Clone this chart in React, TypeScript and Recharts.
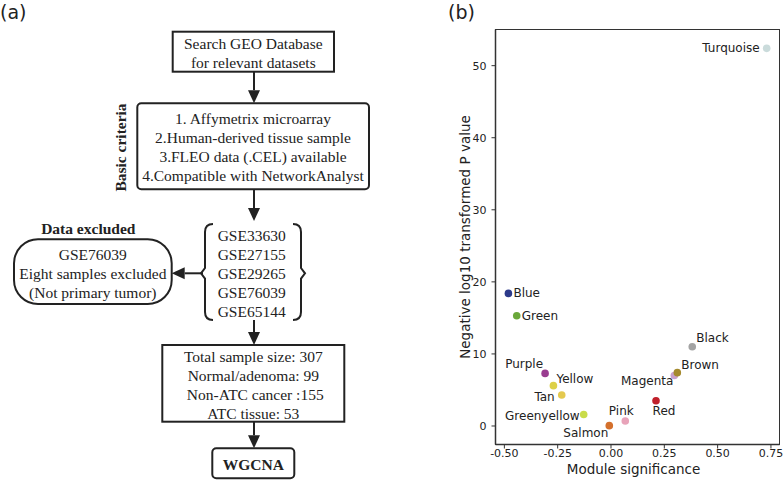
import { ScatterChart, Scatter, XAxis, YAxis, Label } from 'recharts';

// module eigengene: significance vs -log10(p)
const modules = ['Turquoise', 'Blue', 'Green', 'Purple', 'Yellow', 'Tan', 'Greenyellow', 'Salmon', 'Pink', 'Red', 'Magenta', 'Brown', 'Black'];
const significance = [0.73, -0.481, -0.442, -0.309, -0.27, -0.231, -0.128, -0.008, 0.067, 0.211, 0.297, 0.311, 0.381];
const negLogP = [52.4, 18.4, 15.3, 7.3, 5.6, 4.3, 1.6, 0.05, 0.7, 3.5, 7.0, 7.4, 11.0];
const xTicks = [-0.5, -0.25, 0, 0.25, 0.5, 0.75];
const yTicks = [0, 10, 20, 30, 40, 50];

const gseList = ['GSE33630', 'GSE27155', 'GSE29265', 'GSE76039', 'GSE65144'];
const criteria = ['1. Affymetrix microarray', '2.Human-derived tissue sample', '3.FLEO data (.CEL) available', '4.Compatible with NetworkAnalyst'];
const sampleLines = ['Total sample size: 307', 'Normal/adenoma: 99', ' Non-ATC cancer :155', 'ATC tissue: 53'];
const excludedLines = ['GSE76039', 'Eight samples excluded', '(Not primary tumor)'];

const moduleColors: Record<string, string> = {
  Turquoise: '#cadbdb',
  Blue: '#2c3a8a',
  Green: '#6aa83a',
  Purple: '#9a3d90',
  Yellow: '#ddd046',
  Tan: '#e4c94f',
  Greenyellow: '#c9dc4a',
  Salmon: '#d4702c',
  Pink: '#e8a3b9',
  Red: '#c0202a',
  Magenta: '#c9a0cc',
  Brown: '#a58a2e',
  Black: '#a3a3a3',
};

// label offset from the dot: dx, dy, anchor
const placement: Record<string, [number, number, 'start' | 'middle' | 'end']> = {
  Turquoise: [-7, 0, 'end'],
  Blue: [5, 0, 'start'],
  Green: [5, 0, 'start'],
  Purple: [-2, -9, 'end'],
  Yellow: [3, -7, 'start'],
  Tan: [-7, 2, 'end'],
  Greenyellow: [-4, 2, 'end'],
  Salmon: [-1, 7, 'end'],
  Pink: [-4, -10, 'middle'],
  Red: [8, 10, 'middle'],
  Magenta: [-1, 5, 'end'],
  Brown: [4, -8, 'start'],
  Black: [4, -9, 'start'],
};

const points = modules.map((name, i) => ({ name, x: significance[i], y: negLogP[i] }));

const expand = (vals: number[]) => {
  const lo = Math.min(...vals);
  const hi = Math.max(...vals);
  const pad = (hi - lo) * 0.05;
  return [lo - pad, hi + pad];
};
const xDomain = expand(significance);
const yDomain = expand(negLogP);

const SANS = '"DejaVu Sans", sans-serif';
const SERIF = '"Liberation Serif", "Times New Roman", serif';
const INK = '#222';
const EDGE = '#333';

// chart box and plot margins
const CHART_W = 343;
const CHART_H = 481;
const M_TOP = 29.5;
const M_RIGHT = 3.4;
const Y_W = 55.5;
const X_H = 36.5;

function ModuleDot(props: any) {
  const { cx, cy, payload } = props;
  const [dx, dy, anchor] = placement[payload.name];
  return (
    <g>
      <circle cx={cx} cy={cy} r={3.8} fill={moduleColors[payload.name]} />
      <text x={cx + dx} y={cy + dy} textAnchor={anchor} dominantBaseline="central" fontSize={12} fontFamily={SANS} fill={INK}>
        {payload.name}
      </text>
    </g>
  );
}

function Arrow({ x1, y1, x2, y2 }: { x1: number; y1: number; x2: number; y2: number }) {
  const len = Math.hypot(x2 - x1, y2 - y1);
  const ux = (x2 - x1) / len;
  const uy = (y2 - y1) / len;
  const bx = x2 - ux * 13;
  const by = y2 - uy * 13;
  return (
    <g>
      <line x1={x1} y1={y1} x2={bx} y2={by} stroke={INK} strokeWidth={2} />
      <polygon points={`${x2},${y2} ${bx - uy * 6},${by + ux * 6} ${bx + uy * 6},${by - ux * 6}`} fill={INK} />
    </g>
  );
}

function Lines({ lines, x, y0, step, bold }: { lines: string[]; x: number; y0: number; step: number; bold?: boolean }) {
  return (
    <>
      {lines.map((t, i) => (
        <text key={i} x={x} y={y0 + i * step} textAnchor="middle" dominantBaseline="central" fontSize={15.5} fontFamily={SERIF} fontWeight={bold ? 'bold' : 'normal'} fill={INK} style={{ whiteSpace: 'pre' }}>
          {t}
        </text>
      ))}
    </>
  );
}

function Flowchart() {
  return (
    <svg width={440} height={481} style={{ position: 'absolute', left: 0, top: 0 }}>
      <text x={0} y={12} dominantBaseline="central" fontSize={19} fontFamily={SANS} fill={INK}>(a)</text>

      <rect x={172.7} y={31.7} width={161.3} height={40} fill="#fff" stroke={INK} strokeWidth={2} />
      <Lines lines={['Search GEO Database', 'for relevant datasets']} x={253.3} y0={43.5} step={19} />
      <Arrow x1={254} y1={71.7} x2={254} y2={103.3} />

      <rect x={137.3} y={103.3} width={231.7} height={86} rx={4} fill="#fff" stroke={INK} strokeWidth={2} />
      <Lines lines={criteria} x={253} y0={118.3} step={19.2} />
      <text x={120.7} y={147.5} transform="rotate(-90 120.7 147.5)" textAnchor="middle" dominantBaseline="central" fontSize={15.5} fontWeight="bold" fontFamily={SERIF} fill={INK}>
        Basic criteria
      </text>
      <Arrow x1={254} y1={189.3} x2={254} y2={221} />

      <text x={88.3} y={228.3} textAnchor="middle" dominantBaseline="central" fontSize={15.5} fontWeight="bold" fontFamily={SERIF} fill={INK}>
        Data excluded
      </text>
      <rect x={14} y={239.3} width={157.7} height={64.7} rx={24} fill="#fff" stroke={INK} strokeWidth={2} />
      <Lines lines={excludedLines} x={92.8} y0={254} step={19.3} />
      <Arrow x1={203} y1={273.3} x2={171.7} y2={273.3} />

      <path d="M213,224 Q205,224 205,232 L205,268 L201,273.3 L205,278.6 L205,312 Q205,320 213,320" fill="none" stroke={INK} strokeWidth={2} />
      <path d="M293,224 Q301,224 301,232 L301,268 L305,273.3 L301,278.6 L301,312 Q301,320 293,320" fill="none" stroke={INK} strokeWidth={2} />
      <Lines lines={gseList} x={251.7} y0={235} step={19.2} />
      <Arrow x1={254} y1={320} x2={254} y2={345} />

      <rect x={162.3} y={345} width={182} height={76.7} fill="#fff" stroke={INK} strokeWidth={2} />
      <Lines lines={sampleLines} x={253.3} y0={356} step={19.1} />
      <Arrow x1={254} y1={421.7} x2={254} y2={448.3} />

      <rect x={212.3} y={448.3} width={82} height={30} rx={4} fill="#fff" stroke={INK} strokeWidth={2} />
      <Lines lines={['WGCNA']} x={253.3} y0={464} step={0} bold />
    </svg>
  );
}

function YTitle(props: any) {
  const { viewBox } = props;
  const cy = viewBox.y + viewBox.height / 2;
  return (
    <text x={25} y={cy} transform={`rotate(-90 25 ${cy})`} textAnchor="middle" dominantBaseline="central" fontSize={13.5} fontFamily={SANS} fill={INK}>
      Negative log10 transformed P value
    </text>
  );
}

function XTitle(props: any) {
  const { viewBox } = props;
  const cx = viewBox.x + viewBox.width / 2;
  return (
    <text x={cx - 4} y={469} textAnchor="middle" dominantBaseline="central" fontSize={13.5} fontFamily={SANS} fill={INK}>
      Module significance
    </text>
  );
}

function SignificancePlot() {
  return (
    <div style={{ position: 'absolute', left: 440, top: 0, width: CHART_W, height: CHART_H }}>
      <svg width={40} height={24} style={{ position: 'absolute', left: 0, top: 0 }}>
        <text x={8} y={12} dominantBaseline="central" fontSize={19} fontFamily={SANS} fill={INK}>(b)</text>
      </svg>
      <ScatterChart width={CHART_W} height={CHART_H} margin={{ top: M_TOP, right: M_RIGHT, bottom: 0, left: 0 }}>
        <XAxis
          type="number"
          dataKey="x"
          domain={xDomain}
          ticks={xTicks}
          interval={0}
          tickFormatter={(v: number) => v.toFixed(2)}
          height={X_H}
          axisLine={{ stroke: EDGE, strokeWidth: 1.5 }}
          tickSize={4}
          tickMargin={1}
          stroke={EDGE}
          tick={{ fill: INK, fontSize: 11, fontFamily: SANS }}
        >
          <Label content={<XTitle />} />
        </XAxis>
        <YAxis
          type="number"
          dataKey="y"
          domain={yDomain}
          ticks={yTicks}
          interval={0}
          width={Y_W}
          axisLine={{ stroke: EDGE, strokeWidth: 1.5 }}
          tickSize={4}
          tickMargin={5}
          stroke={EDGE}
          tick={{ fill: INK, fontSize: 11, fontFamily: SANS }}
        >
          <Label content={<YTitle />} />
        </YAxis>
        <Scatter data={points} shape={<ModuleDot />} isAnimationActive={false} />
      </ScatterChart>
      {/* panel border drawn over the plotting area */}
      <div
        style={{
          position: 'absolute',
          left: Y_W - 0.75,
          top: M_TOP - 0.75,
          width: CHART_W - Y_W - M_RIGHT + 1.5,
          height: CHART_H - M_TOP - X_H + 1.5,
          border: `1.5px solid ${EDGE}`,
          boxSizing: 'border-box',
          pointerEvents: 'none',
        }}
      />
    </div>
  );
}

export default function App() {
  return (
    <div style={{ position: 'absolute', left: 0, top: 0, width: 783, height: 481, background: '#fff' }}>
      <Flowchart />
      <SignificancePlot />
    </div>
  );
}
